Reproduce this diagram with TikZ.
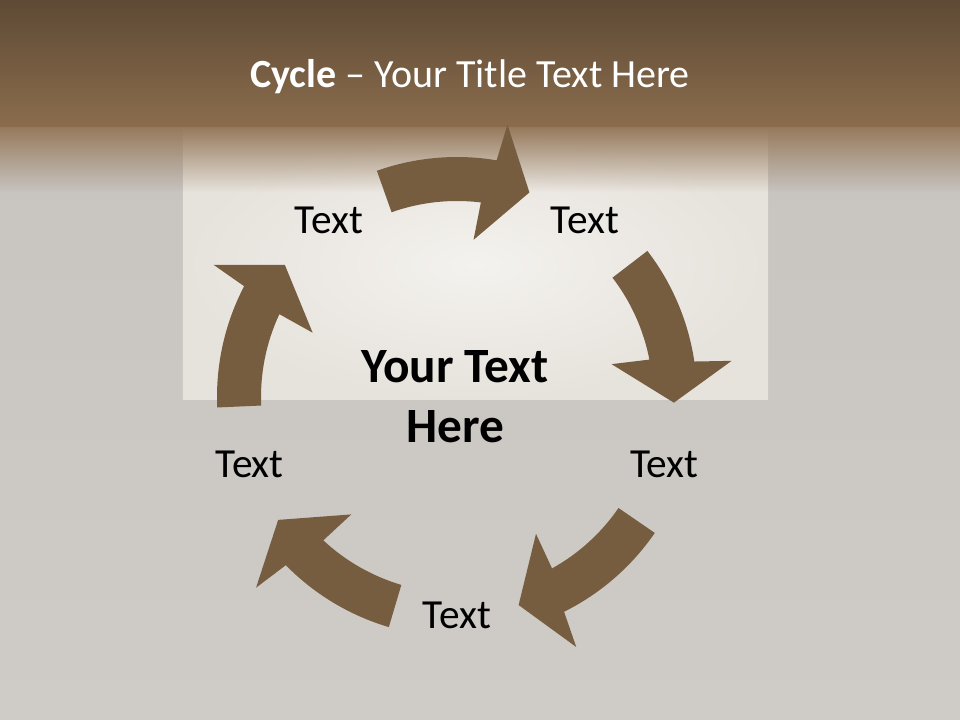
\documentclass[tikz,border=0pt]{standalone}
\usepackage{fontspec}
\setmainfont{Carlito}
\usetikzlibrary{fadings}

\definecolor{arrowbrown}{RGB}{118,93,64}
\definecolor{bandtop}{RGB}{94,74,53}
\definecolor{bandbottom}{RGB}{139,109,77}
\definecolor{wallgray}{RGB}{198,194,190}
\definecolor{wallgraylow}{RGB}{207,203,199}
\definecolor{paper}{RGB}{230,226,220}
\definecolor{paperlight}{RGB}{244,242,238}
\definecolor{fadebrown}{RGB}{150,122,92}
\tikzfading[name=fadedown, top color=transparent!0, bottom color=transparent!100]

\begin{document}
\begin{tikzpicture}[x=0.75pt, y=0.75pt,
  cyclearrow/.style={fill=arrowbrown},
  steptext/.style={font=\fontsize{31pt}{37pt}\selectfont, text=black}]

\useasboundingbox (-457,-323) rectangle (503,397);

% wall, paper and top band
\shade[top color=wallgray, bottom color=wallgraylow] (-457,-323) rectangle (503,397);
\shade[inner color=paperlight, outer color=paper] (-274,-3) rectangle (311,267);
\shade[top color=bandtop, bottom color=bandbottom] (-457,269) rectangle (503,397);
\fill[fadebrown, path fading=fadedown] (-457,205) rectangle (503,270);

\node[font=\fontsize{30pt}{36pt}\selectfont, text=white, anchor=base] (title)
  at (13,309) {\textbf{Cycle} -- Your Title Text Here};

% the five arrows, clockwise
\fill[cyclearrow] (109.5:240) arc[start angle=109.5, end angle=80.5, radius=240]
  -- (79.5:277) -- (70.5:217) -- (84:158) -- (83:196)
  arc[start angle=83, end angle=109.5, radius=196] -- cycle;
\fill[cyclearrow] (37.5:240) arc[start angle=37.5, end angle=8.5, radius=240]
  -- (7.5:277) -- (-1.5:217) -- (12:158) -- (11:196)
  arc[start angle=11, end angle=37.5, radius=196] -- cycle;
\fill[cyclearrow] (-34.5:240) arc[start angle=-34.5, end angle=-63.5, radius=240]
  -- (-64.5:277) -- (-73.5:217) -- (-60:158) -- (-61:196)
  arc[start angle=-61, end angle=-34.5, radius=196] -- cycle;
\fill[cyclearrow] (-106.5:240) arc[start angle=-106.5, end angle=-135.5, radius=240]
  -- (-136.5:277) -- (-145.5:217) -- (-132:158) -- (-133:196)
  arc[start angle=-133, end angle=-106.5, radius=196] -- cycle;
\fill[cyclearrow] (182.5:240) arc[start angle=182.5, end angle=152.5, radius=240]
  -- (151.5:277) -- (142.5:217) -- (156:158) -- (155:196)
  arc[start angle=155, end angle=182.5, radius=196] -- cycle;

% texts
\node[steptext] (text1) at (126:218) {Text};
\node[steptext] (text2) at (54:218) {Text};
\node[steptext] (text3) at (-18:218) {Text};
\node[steptext] (text4) at (-90:218) {Text};
\node[steptext] (text5) at (198:218) {Text};
\node[font=\bfseries\fontsize{37pt}{45pt}\selectfont, align=center] (centre)
  at (-2,0) {Your Text\\Here};
\end{tikzpicture}
\end{document}
